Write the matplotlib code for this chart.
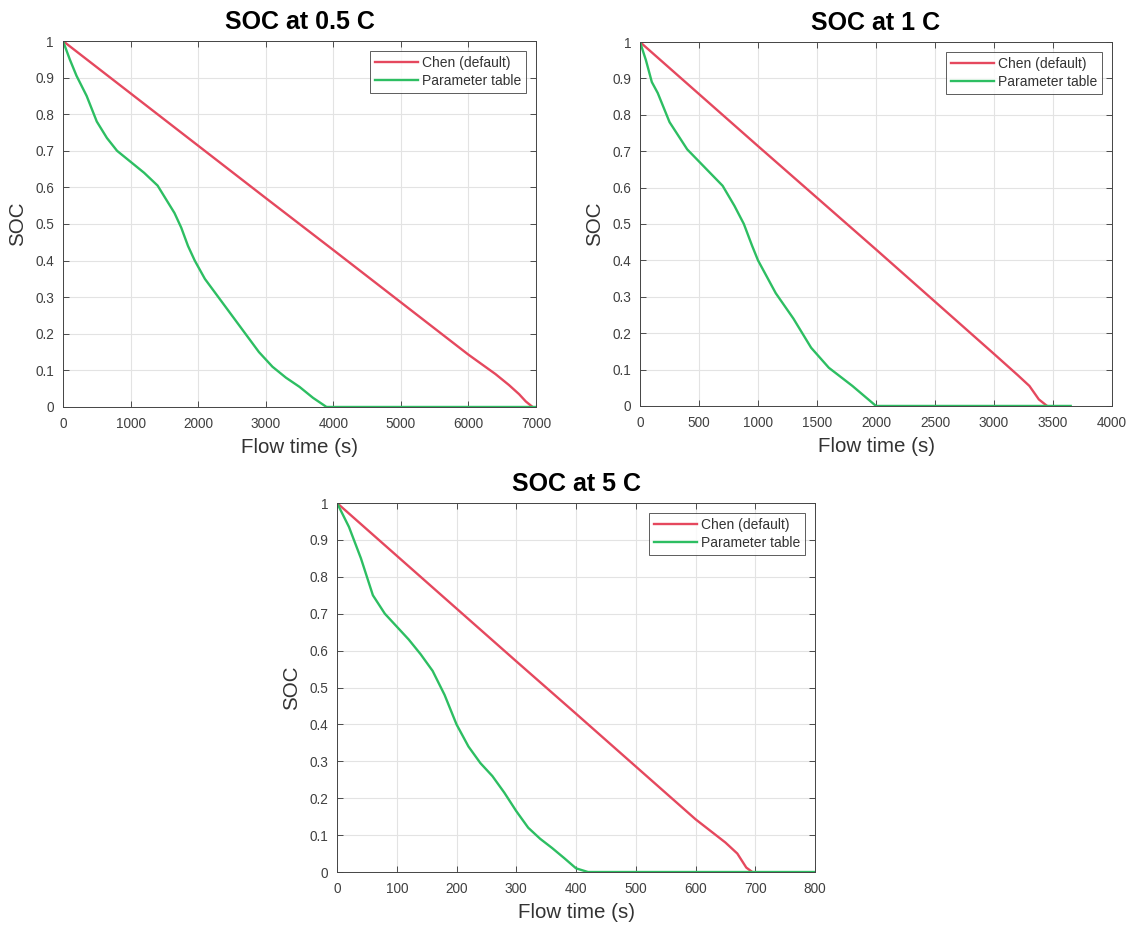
import matplotlib
matplotlib.use("Agg")
import matplotlib.pyplot as plt
import numpy as np

plt.rcParams['font.family'] = ['Liberation Sans', 'DejaVu Sans']

# ---- Data ----
titles = ["SOC at 0.5 C", "SOC at 1 C", "SOC at 5 C"]
series_names = ["Chen (default)", "Parameter table"]

# 0.5 C
t1_chen = [0, 1000, 2000, 3000, 4000, 5000, 6000, 6400, 6600, 6750, 6850, 6950]
s1_chen = [1.0, 0.857, 0.714, 0.571, 0.429, 0.286, 0.143, 0.09, 0.06, 0.035, 0.015, 0.0]
t1_par = [0, 100, 200, 350, 500, 650, 800, 1000, 1200, 1400, 1500, 1650, 1750, 1850, 1950,
          2100, 2300, 2500, 2700, 2900, 3100, 3300, 3500, 3700, 3900, 7000]
s1_par = [1.0, 0.95, 0.905, 0.85, 0.78, 0.735, 0.70, 0.67, 0.64, 0.605, 0.575, 0.53, 0.49, 0.44, 0.40,
          0.35, 0.30, 0.25, 0.20, 0.15, 0.11, 0.08, 0.055, 0.025, 0.0, 0.0]

# 1 C
t2_chen = [0, 1000, 2000, 3000, 3200, 3300, 3380, 3450]
s2_chen = [1.0, 0.714, 0.43, 0.143, 0.085, 0.055, 0.018, 0.0]
t2_par = [0, 50, 100, 150, 250, 400, 550, 700, 800, 880, 950, 1000, 1150, 1300, 1450, 1600,
          1800, 2000, 3650]
s2_par = [1.0, 0.95, 0.89, 0.86, 0.78, 0.705, 0.655, 0.605, 0.55, 0.50, 0.44, 0.40, 0.31, 0.24,
          0.16, 0.105, 0.055, 0.0, 0.0]

# 5 C
t3_chen = [0, 100, 200, 300, 400, 500, 600, 650, 670, 685, 695]
s3_chen = [1.0, 0.857, 0.714, 0.571, 0.429, 0.286, 0.143, 0.08, 0.05, 0.012, 0.0]
t3_par = [0, 20, 40, 60, 80, 100, 120, 140, 160, 180, 200, 220, 240, 260, 280, 300, 320, 340,
          360, 380, 400, 420, 800]
s3_par = [1.0, 0.935, 0.85, 0.75, 0.70, 0.665, 0.63, 0.59, 0.545, 0.48, 0.40, 0.34, 0.295,
          0.26, 0.215, 0.165, 0.12, 0.09, 0.065, 0.038, 0.01, 0.0, 0.0]

xlims = [(0, 7000), (0, 4000), (0, 800)]
xticks = [np.arange(0, 7001, 1000), np.arange(0, 4001, 500), np.arange(0, 801, 100)]
yticks = [0, 0.1, 0.2, 0.3, 0.4, 0.5, 0.6, 0.7, 0.8, 0.9, 1]
ytick_labels = ["0", "0.1", "0.2", "0.3", "0.4", "0.5", "0.6", "0.7", "0.8", "0.9", "1"]

data = [
    ((t1_chen, s1_chen), (t1_par, s1_par)),
    ((t2_chen, s2_chen), (t2_par, s2_par)),
    ((t3_chen, s3_chen), (t3_par, s3_par)),
]

RED = "#E5485E"
GREEN = "#2DBE62"
TXT = "#404040"

fig = plt.figure(figsize=(11.31, 9.26), dpi=100)
positions = [
    [0.0557, 0.5605, 0.4182, 0.3952],
    [0.5659, 0.5616, 0.4173, 0.3930],
    [0.2980, 0.0583, 0.4226, 0.3985],
]

for i, pos in enumerate(positions):
    ax = fig.add_axes(pos)
    (tc, sc), (tp, sp) = data[i]
    ax.plot(tc, sc, color=RED, lw=1.7, label=series_names[0])
    ax.plot(tp, sp, color=GREEN, lw=1.7, label=series_names[1])
    ax.set_xlim(*xlims[i])
    ax.set_ylim(0, 1)
    ax.set_xticks(xticks[i])
    ax.set_yticks(yticks)
    ax.set_yticklabels(ytick_labels)
    ax.grid(True, color="#e3e3e3", lw=0.8)
    ax.set_axisbelow(True)
    ax.tick_params(direction="in", top=True, right=True, labelsize=9.8,
                   labelcolor=TXT, color="#333333", length=4, width=0.6)
    ax.tick_params(axis="x", pad=7)
    ax.tick_params(axis="y", pad=6.5)
    for sp_ in ax.spines.values():
        sp_.set_color("#444444")
        sp_.set_linewidth(0.7)
    ax.set_xlabel("Flow time (s)", fontsize=14.8, color="#333333", labelpad=5)
    ax.set_ylabel("SOC", fontsize=14.8, color="#333333", labelpad=6)
    ax.set_title(titles[i], fontsize=18, fontweight="bold", pad=9)
    leg = ax.legend(loc="upper right", fontsize=10, frameon=True, fancybox=False,
                    edgecolor="#333333", borderaxespad=0.7, handlelength=3.1,
                    handletextpad=0.3, borderpad=0.35, labelspacing=0.3)
    leg.get_frame().set_linewidth(0.7)
    for t in leg.get_texts():
        t.set_color("#333333")

fig.savefig("out.png", dpi=100)
